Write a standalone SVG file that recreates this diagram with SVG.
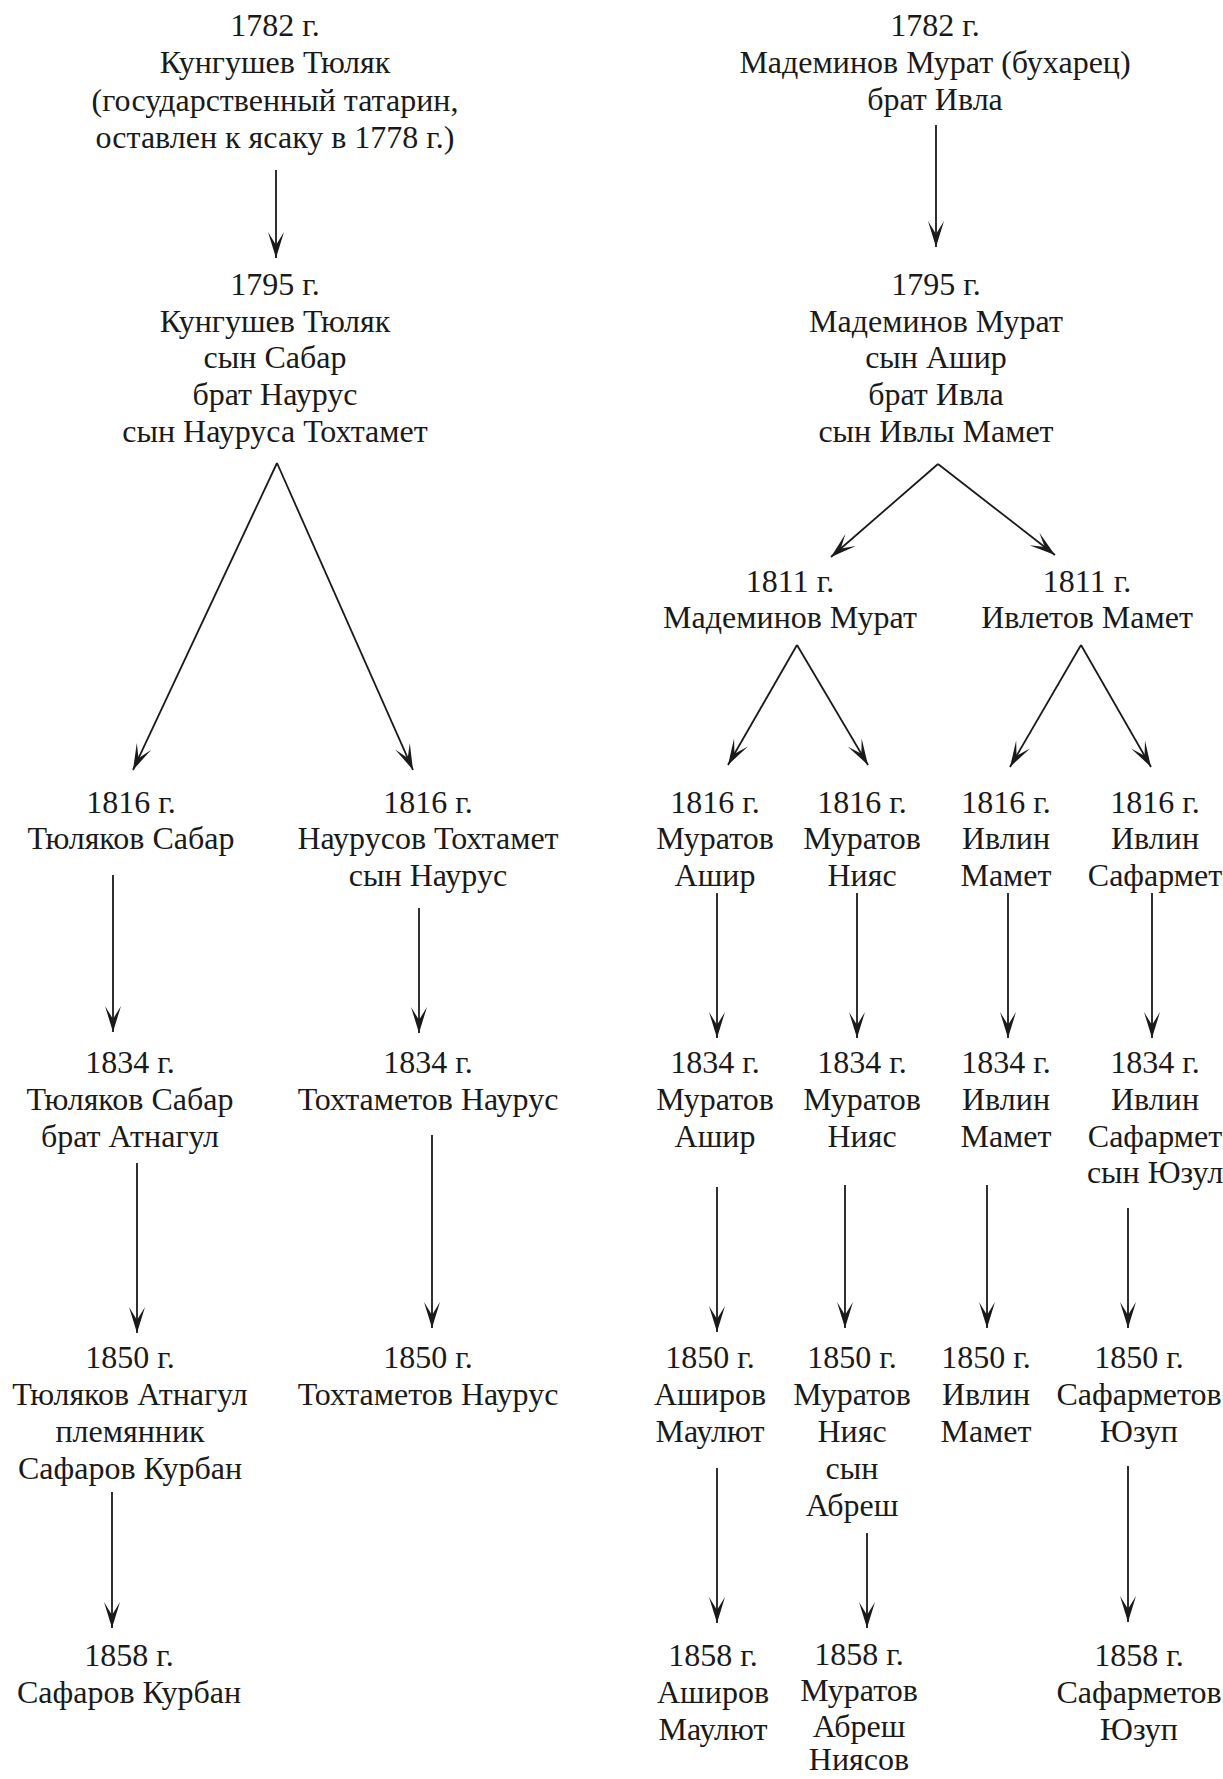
<svg xmlns="http://www.w3.org/2000/svg" width="1223" height="1779" viewBox="0 0 1223 1779">
<style>
text{font-family:"Liberation Serif","Times New Roman",serif;font-size:32px;fill:#1a1a1a;text-anchor:middle}
.c line{stroke:#1a1a1a;stroke-width:1.8;fill:none;marker-end:url(#ah)}
</style>
<defs>
<marker id="ah" viewBox="-28 -10 30 20" refX="0" refY="0" markerWidth="30" markerHeight="20" orient="auto" markerUnits="userSpaceOnUse">
<path d="M0,0 L-26,-8 L-13,0 L-26,8 Z" fill="#1a1a1a"/>
</marker>
</defs>
<rect width="1223" height="1779" fill="#fff"/>
<g class="c" id="connectors">
<line x1="276" y1="170" x2="276" y2="258"/>
<line x1="277" y1="463" x2="133" y2="770"/>
<line x1="277" y1="463" x2="413" y2="770"/>
<line x1="113" y1="875" x2="113" y2="1032"/>
<line x1="419" y1="908" x2="419" y2="1033"/>
<line x1="137" y1="1163" x2="137" y2="1333"/>
<line x1="432" y1="1135" x2="432" y2="1328"/>
<line x1="112" y1="1492" x2="112" y2="1628"/>
<line x1="936" y1="125" x2="936" y2="247"/>
<line x1="938" y1="464" x2="831" y2="557"/>
<line x1="938" y1="464" x2="1055" y2="555"/>
<line x1="797" y1="645" x2="728" y2="765"/>
<line x1="797" y1="645" x2="868" y2="765"/>
<line x1="1081" y1="645" x2="1010" y2="767"/>
<line x1="1081" y1="645" x2="1151" y2="767"/>
<line x1="717" y1="893" x2="717" y2="1038"/>
<line x1="857" y1="893" x2="857" y2="1038"/>
<line x1="1008" y1="893" x2="1008" y2="1038"/>
<line x1="1152" y1="893" x2="1152" y2="1038"/>
<line x1="717" y1="1187" x2="717" y2="1332"/>
<line x1="845" y1="1185" x2="845" y2="1328"/>
<line x1="987" y1="1185" x2="987" y2="1328"/>
<line x1="1128" y1="1208" x2="1128" y2="1328"/>
<line x1="717" y1="1468" x2="717" y2="1623"/>
<line x1="867" y1="1533" x2="867" y2="1628"/>
<line x1="1128" y1="1466" x2="1128" y2="1622"/>
</g>
<g id="n-l1782"><text x="275" y="36">1782 г.</text><text x="275" y="73">Кунгушев Тюляк</text><text x="275" y="111">(государственный татарин,</text><text x="275" y="148">оставлен к ясаку в 1778 г.)</text></g>
<g id="n-l1795"><text x="275" y="295">1795 г.</text><text x="275" y="332">Кунгушев Тюляк</text><text x="275" y="368">сын Сабар</text><text x="275" y="405">брат Наурус</text><text x="275" y="442">сын Науруса Тохтамет</text></g>
<g id="n-l1816a"><text x="131" y="813">1816 г.</text><text x="131" y="849">Тюляков Сабар</text></g>
<g id="n-l1816b"><text x="428" y="813">1816 г.</text><text x="428" y="849">Наурусов Тохтамет</text><text x="428" y="886">сын Наурус</text></g>
<g id="n-l1834a"><text x="130" y="1073">1834 г.</text><text x="130" y="1110">Тюляков Сабар</text><text x="130" y="1147">брат Атнагул</text></g>
<g id="n-l1834b"><text x="428" y="1073">1834 г.</text><text x="428" y="1110">Тохтаметов Наурус</text></g>
<g id="n-l1850a"><text x="130" y="1368">1850 г.</text><text x="130" y="1405">Тюляков Атнагул</text><text x="130" y="1442">племянник</text><text x="130" y="1479">Сафаров Курбан</text></g>
<g id="n-l1850b"><text x="428" y="1368">1850 г.</text><text x="428" y="1405">Тохтаметов Наурус</text></g>
<g id="n-l1858"><text x="129" y="1666">1858 г.</text><text x="129" y="1703">Сафаров Курбан</text></g>
<g id="n-r1782"><text x="935" y="36">1782 г.</text><text x="935" y="73">Мадеминов Мурат (бухарец)</text><text x="935" y="110">брат Ивла</text></g>
<g id="n-r1795"><text x="936" y="295">1795 г.</text><text x="936" y="332">Мадеминов Мурат</text><text x="936" y="368">сын Ашир</text><text x="936" y="405">брат Ивла</text><text x="936" y="442">сын Ивлы Мамет</text></g>
<g id="n-r1811a"><text x="790" y="592">1811 г.</text><text x="790" y="628">Мадеминов Мурат</text></g>
<g id="n-r1811b"><text x="1087" y="592">1811 г.</text><text x="1087" y="628">Ивлетов Мамет</text></g>
<g id="n-r1816a"><text x="715" y="813">1816 г.</text><text x="715" y="849">Муратов</text><text x="715" y="886">Ашир</text></g>
<g id="n-r1816b"><text x="862" y="813">1816 г.</text><text x="862" y="849">Муратов</text><text x="862" y="886">Нияс</text></g>
<g id="n-r1816c"><text x="1006" y="813">1816 г.</text><text x="1006" y="849">Ивлин</text><text x="1006" y="886">Мамет</text></g>
<g id="n-r1816d"><text x="1155" y="813">1816 г.</text><text x="1155" y="849">Ивлин</text><text x="1155" y="886">Сафармет</text></g>
<g id="n-r1834a"><text x="715" y="1073">1834 г.</text><text x="715" y="1110">Муратов</text><text x="715" y="1147">Ашир</text></g>
<g id="n-r1834b"><text x="862" y="1073">1834 г.</text><text x="862" y="1110">Муратов</text><text x="862" y="1147">Нияс</text></g>
<g id="n-r1834c"><text x="1006" y="1073">1834 г.</text><text x="1006" y="1110">Ивлин</text><text x="1006" y="1147">Мамет</text></g>
<g id="n-r1834d"><text x="1155" y="1073">1834 г.</text><text x="1155" y="1110">Ивлин</text><text x="1155" y="1147">Сафармет</text><text x="1155" y="1183">сын Юзул</text></g>
<g id="n-r1850a"><text x="710" y="1368">1850 г.</text><text x="710" y="1405">Аширов</text><text x="710" y="1442">Маулют</text></g>
<g id="n-r1850b"><text x="852" y="1368">1850 г.</text><text x="852" y="1405">Муратов</text><text x="852" y="1442">Нияс</text><text x="852" y="1479">сын</text><text x="852" y="1516">Абреш</text></g>
<g id="n-r1850c"><text x="986" y="1368">1850 г.</text><text x="986" y="1405">Ивлин</text><text x="986" y="1442">Мамет</text></g>
<g id="n-r1850d"><text x="1139" y="1368">1850 г.</text><text x="1139" y="1405">Сафарметов</text><text x="1139" y="1442">Юзуп</text></g>
<g id="n-r1858a"><text x="713" y="1666">1858 г.</text><text x="713" y="1703">Аширов</text><text x="713" y="1740">Маулют</text></g>
<g id="n-r1858b"><text x="859" y="1665">1858 г.</text><text x="859" y="1701">Муратов</text><text x="859" y="1737">Абреш</text><text x="859" y="1770">Ниясов</text></g>
<g id="n-r1858c"><text x="1139" y="1666">1858 г.</text><text x="1139" y="1703">Сафарметов</text><text x="1139" y="1740">Юзуп</text></g>
</svg>
